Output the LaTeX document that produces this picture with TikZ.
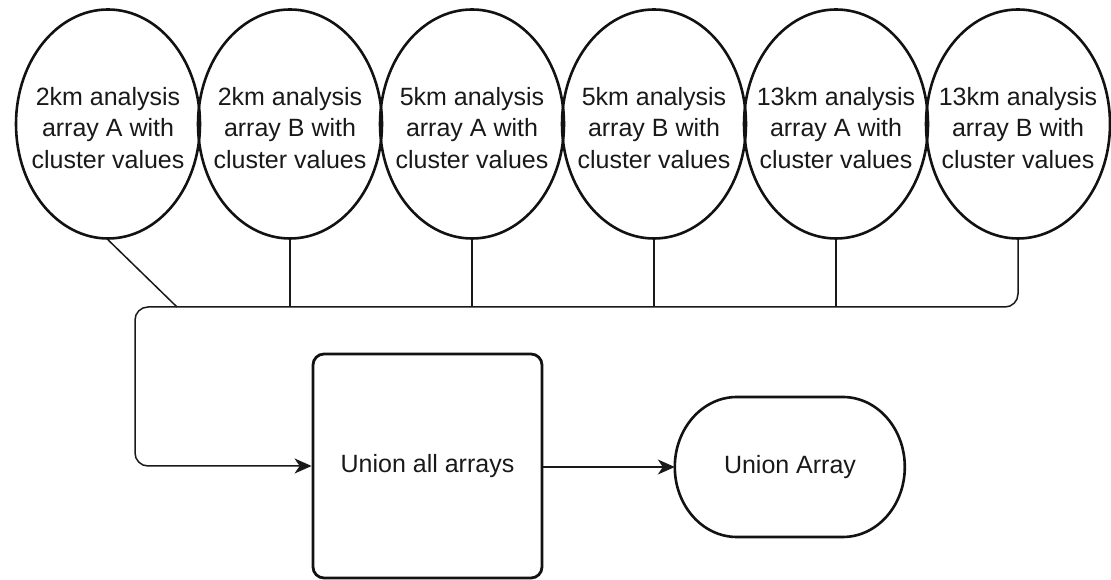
\documentclass[tikz,border=0pt]{standalone}
\usepackage{fontspec}
\setmainfont{Liberation Sans}
\usetikzlibrary{shapes.geometric,arrows.meta}
\begin{document}
\begin{tikzpicture}[x=1pt,y=1pt,
  oval/.style={ellipse,draw=black!93,line width=2.6pt,minimum width=184pt,minimum height=229pt,inner sep=0pt},
  lbl/.style={align=center,text=black!90,font=\fontsize{25}{31.5}\selectfont,inner sep=0pt},
  conn/.style={draw=black!90,line width=1.5pt},
  ubox/.style={draw=black!93,line width=2.8pt,rounded corners=11pt,minimum width=229pt,minimum height=224pt,inner sep=0pt},
  tip/.style={-{Stealth[length=17pt,width=15pt,inset=5pt]}}
]
\useasboundingbox (0,0) rectangle (1111,580);
\foreach \i/\x/\t in {1/108/{2km analysis\\array A with\\cluster values},
                      2/290/{2km analysis\\array B with\\cluster values},
                      3/472/{5km analysis\\array A with\\cluster values},
                      4/654/{5km analysis\\array B with\\cluster values},
                      5/836/{13km analysis\\array A with\\cluster values},
                      6/1018/{13km analysis\\array B with\\cluster values}}{
  \node[oval] (e\i) at (\x,456) {};
  \node[lbl] (t\i) at (\x,452) {\t};
}
\coordinate (bl) at (135,273);
\coordinate (dj) at (177,273);
\node[ubox] (box) at (427.5,114) {};
\node[lbl] (boxt) at (box.center) {Union all arrays};
\node[lbl,minimum width=230pt,minimum height=140pt] (ua) at (790,113) {Union Array};
\draw[draw=black!93,line width=2.6pt] (ua.west)
  arc[start angle=180,end angle=90,x radius=62pt,y radius=70pt] -- ++(106,0)
  arc[start angle=90,end angle=0,x radius=62pt,y radius=70pt]
  arc[start angle=0,end angle=-90,x radius=62pt,y radius=70pt] -- ++(-106,0)
  arc[start angle=270,end angle=180,x radius=62pt,y radius=70pt] -- cycle;
\draw[conn,tip,rounded corners=13pt] (e6.south) |- (bl) |- (box.west);
\draw[conn] (e1.south) -- (dj);
\foreach \i in {2,3,4,5}{\draw[conn] (e\i.south) -- (e\i.south |- bl);}
\draw[conn,tip] (box.east |- ua.west) -- (ua.west);
\end{tikzpicture}
\end{document}
